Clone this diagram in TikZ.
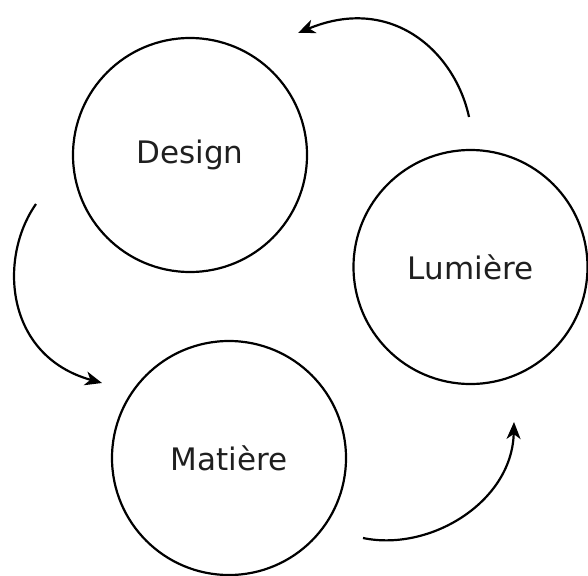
\documentclass[tikz,border=0pt]{standalone}
\usepackage{fontspec}
\setmainfont{DejaVu Sans}
\usetikzlibrary{arrows.meta}
\begin{document}
\begin{tikzpicture}[x=1pt,y=-1pt,
  ring/.style={circle,draw,line width=2.2pt,minimum size=234pt,inner sep=0pt,font=\fontsize{31}{37}\selectfont,text=black!88},
  flow/.style={line width=2.2pt,-{Stealth[length=17pt,width=14pt,inset=5pt]}}]
\useasboundingbox (0,0) rectangle (588,575);
\node[ring] (design) at (190,155) {Design};
\node[ring] (lumiere) at (470.5,267) {Lumière};
\node[ring] (matiere) at (229,458) {Matière};
\coordinate (a1s) at (469,117);
\coordinate (a1e) at (298,33);
\coordinate (a2s) at (36,204);
\coordinate (a2e) at (102,383);
\coordinate (a3s) at (363,538);
\coordinate (a3e) at (514,422);
\draw[flow] (a1s) .. controls (455,52) and (392,-6) .. (a1e);
\draw[flow] (a2s) .. controls (-2,258) and (5,356) .. (a2e);
\draw[flow] (a3s) .. controls (430,552) and (512,502) .. (a3e);
\end{tikzpicture}
\end{document}
